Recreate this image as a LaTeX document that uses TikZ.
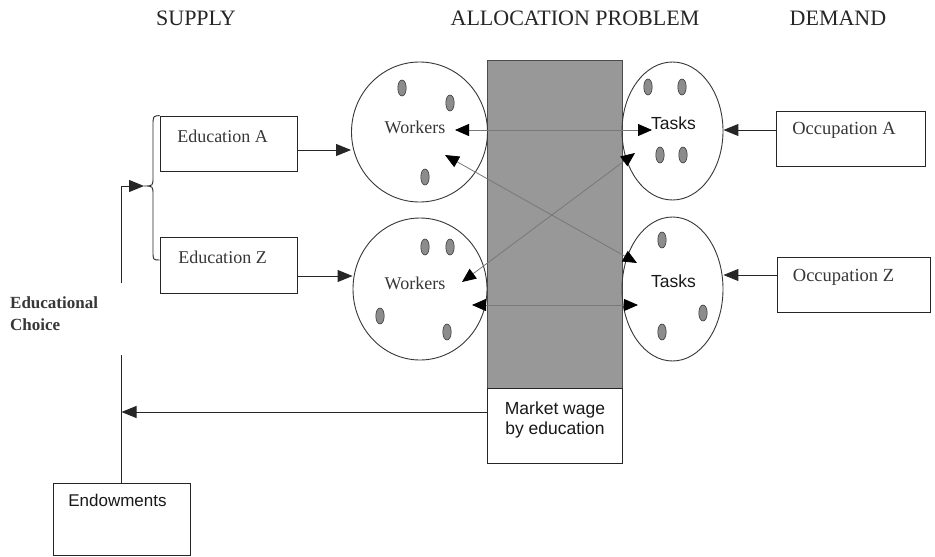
\documentclass[tikz,border=0pt]{standalone}
\usepackage{fontspec}
\setmainfont{Liberation Serif}
\setsansfont{Liberation Sans}
\usetikzlibrary{arrows.meta,calc,shapes.geometric}
\definecolor{barfill}{RGB}{152,152,152}
\definecolor{ink}{RGB}{55,55,55}
\definecolor{thingrey}{RGB}{120,120,120}
\definecolor{dotfill}{RGB}{140,140,140}
\begin{document}
\begin{tikzpicture}[x=1pt,y=-1pt,
  title/.style={font=\fontsize{22}{24}\selectfont,text=black!85,inner sep=0pt},
  lbl/.style={font=\fontsize{18}{20}\selectfont,text=ink,inner sep=0pt},
  slbl/.style={font=\sffamily\fontsize{17.5}{20}\selectfont,text=black!90,inner sep=0pt,align=center},
  box/.style={draw=black!85,line width=0.9pt,inner sep=0pt},
  blob/.style={ellipse,draw=ink,line width=0.9pt,inner sep=0pt},
  conn/.style={draw=black!85,line width=1pt,-{Triangle[length=15pt,width=12pt]}},
  plain/.style={draw=black!85,line width=0.9pt},
  dbl/.style={draw=thingrey,line width=0.8pt,
    {Triangle[length=14pt,width=12pt,color=black]}-{Triangle[length=14pt,width=12pt,color=black]}},
  dot/.style={fill=dotfill,draw=ink,line width=0.6pt}
]
\useasboundingbox[fill=white] (0,0) rectangle (935,557);

% titles
\node[title] (tsup) at (196,18) {SUPPLY};
\node[title] (talloc) at (575,18) {ALLOCATION PROBLEM};
\node[title] (tdem) at (838,18) {DEMAND};

% grey allocation bar and wage box
\node[box,draw=black!70,line width=0.7pt,fill=barfill,minimum width=135pt,minimum height=328pt] (wage) at (554.5,224) {};
\node[box,minimum width=135pt,minimum height=75pt] (mw) at (554.5,425.5) {};
\node[slbl] (mwt) at (555,420) {Market wage\\by education};

% worker and task pools
\node[blob,minimum width=136pt,minimum height=140pt] (wA) at (419.5,132) {};
\node[blob,minimum width=134pt,minimum height=142pt] (wZ) at (420,289) {};
\node[blob,minimum width=101pt,minimum height=138pt] (tA) at (672.5,131) {};
\node[blob,minimum width=101pt,minimum height=144pt] (tZ) at (672.5,289) {};

\node[lbl] (wAt) at (415,127) {Workers};
\node[lbl] (wZt) at (415,283) {Workers};
\node[slbl] (tAt) at (673.5,123) {Tasks};
\node[slbl] (tZt) at (673.5,281) {Tasks};

% dots
\foreach \p in {(402,88),(450,103),(425,177),
                (425,247),(450,247),(380,316),(447,332),
                (648,87),(682,87),(660,155),(683,155),
                (662,240),(703,313),(662,332)}
  \draw[dot] \p ellipse [x radius=4.2, y radius=8];

% supply side boxes
\node[box,minimum width=137pt,minimum height=55pt] (eduA) at (228.5,143.5) {};
\node[box,minimum width=137pt,minimum height=56pt] (eduZ) at (228.5,265) {};
\node[lbl] (eduAt) at (222.5,136) {Education A};
\node[lbl] (eduZt) at (222.5,257) {Education Z};

\node[box,minimum width=137pt,minimum height=72pt] (endow) at (121.5,519) {};
\node[slbl,font=\sffamily\fontsize{17}{20}\selectfont] (endowt) at (117.5,500) {Endowments};

\node[lbl,font=\bfseries\fontsize{17}{22}\selectfont,align=left,anchor=west] (choice) at (10,314) {Educational\\Choice};

% demand side boxes
\node[box,minimum width=149pt,minimum height=55pt] (occA) at (850.5,138.5) {};
\node[box,minimum width=153pt,minimum height=55pt] (occZ) at (853.5,284.5) {};
\node[lbl,font=\fontsize{18.5}{20}\selectfont] (occAt) at (844,130) {Occupation A};
\node[lbl,font=\fontsize{18.5}{20}\selectfont] (occZt) at (843.5,277) {Occupation Z};

% connectors
\draw[conn] ([yshift=-6.5pt]eduA.east) -- ([yshift=-6.5pt]eduA.east -| wA.west);
\draw[conn] ([yshift=-11pt]eduZ.east) -- ([yshift=-11pt]eduZ.east -| wZ.west);
\draw[conn] ([yshift=8.5pt]occA.west) -- ([yshift=8.5pt]occA.west -| tA.east);
\draw[conn] ([yshift=9.5pt]occZ.west) -- ([yshift=9.5pt]occZ.west -| tZ.east);

% feedback loop
\coordinate (ctop) at (121.5,186);
\coordinate (gapT) at (121.5,283);
\coordinate (gapB) at (121.5,355);
\coordinate (btip) at (144,186);
\draw[conn] ([yshift=13.5pt]mw.west) -- ([yshift=13.5pt]mw.west -| endow.north);
\draw[plain] (endow.north) -- (gapB);
\draw[conn] (gapT) -- (ctop) -- (btip);

% brace
\draw[plain] (eduA.north west) .. controls (153,116) .. (153,126) -- (153,177)
  .. controls (153,186) .. (btip) .. controls (153,186) .. (153,195) -- (153,251)
  .. controls (153,260) .. ([yshift=5pt]eduZ.west);

% allocation links
\draw[dbl] ($(wA)+(35.5,-2)$) -- ($(tA)+(-20.5,-1)$);
\draw[dbl] ($(wZ)+(52,16)$) -- ($(tZ)+(-34.5,16)$);
\draw[dbl] ($(wA)+(25.5,23)$) -- ($(tZ)+(-35.5,-26)$);
\draw[dbl] ($(wZ)+(42,-7)$) -- ($(tA)+(-37.5,22)$);
\end{tikzpicture}
\end{document}
